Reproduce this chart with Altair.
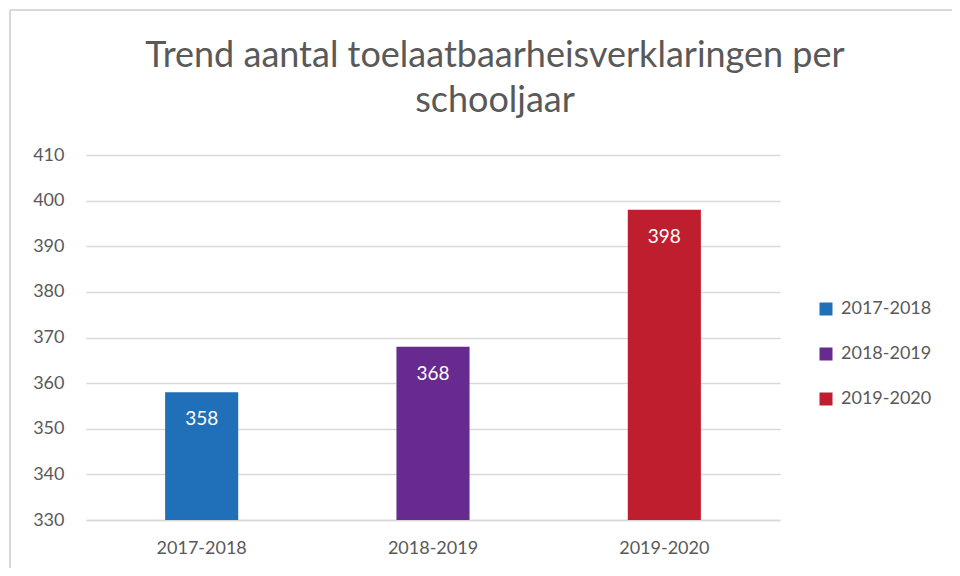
import altair as alt
import pandas as pd

years = ["2017-2018", "2018-2019", "2019-2020"]
values = [358, 368, 398]
colors = ["#1F70B9", "#672A8F", "#BE1E2D"]

df = pd.DataFrame({"jaar": years, "aantal": values})

FONT = "Lato"
GREY = "#595959"

base = alt.Chart(df)

bars = base.mark_bar(clip=True).encode(
    x=alt.X("jaar:N", sort=years,
            scale=alt.Scale(paddingInner=0.684, paddingOuter=0.342),
            axis=alt.Axis(title=None, labelAngle=0, labelFontSize=18, labelColor=GREY,
                          labelFont=FONT, ticks=False, grid=False, domain=True,
                          domainColor="#d9d9d9", domainWidth=1.5, labelPadding=19)),
    y=alt.Y("aantal:Q", scale=alt.Scale(domain=[330, 410], zero=False, nice=False),
            axis=alt.Axis(title=None, values=list(range(330, 411, 10)), labelFontSize=18,
                          labelColor=GREY, labelFont=FONT, ticks=False, domain=False,
                          gridColor="#d9d9d9", gridWidth=1.5, labelPadding=22)),
    color=alt.Color("jaar:N", sort=years,
                    scale=alt.Scale(domain=years, range=colors),
                    legend=alt.Legend(title=None, orient="none", legendX=731, legendY=145,
                                      symbolType="square", symbolSize=169, symbolStrokeWidth=0,
                                      labelFontSize=18, labelColor=GREY, labelFont=FONT,
                                      rowPadding=27, labelOffset=6)),
)

labels = base.mark_text(color="white", fontSize=19, font=FONT, baseline="middle", dy=27).encode(
    x=alt.X("jaar:N", sort=years),
    y=alt.Y("aantal:Q"),
    text=alt.Text("aantal:Q"),
)

frame_top = alt.Chart(df).mark_rule(color="#d9d9d9", strokeWidth=1.5).encode(
    x=alt.value(-76), x2=alt.value(866), y=alt.value(-145)
)
frame_left = alt.Chart(df).mark_rule(color="#d9d9d9", strokeWidth=1.5).encode(
    x=alt.value(-76), y=alt.value(-145), y2=alt.value(413)
)

chart = alt.layer(frame_top, frame_left, bars, labels).properties(
    width=694,
    height=365,
    background="white",
    autosize=alt.AutoSizeParams(type="none"),
    padding={"left": 78, "top": 147, "right": 172, "bottom": 48},
    title=alt.TitleParams(
        text=["Trend aantal toelaatbaarheisverklaringen per", "schooljaar"],
        fontSize=36, font=FONT, fontWeight="normal", color=GREY,
        anchor="middle", dx=62, dy=151, offset=40, lineHeight=45,
    ),
).configure_view(stroke=None)

chart.save("out.html", embed_options={"renderer": "svg", "actions": False})
